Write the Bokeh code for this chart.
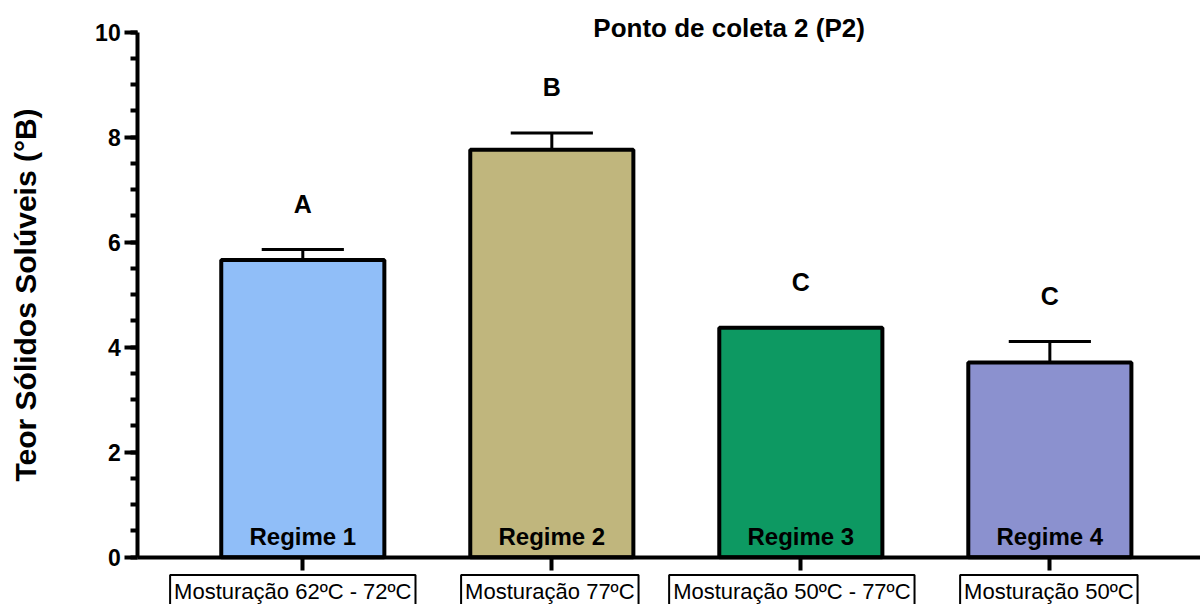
from bokeh.plotting import figure
from bokeh.models import ColumnDataSource, Range1d, FixedTicker, Label
from bokeh.embed import file_html
from bokeh.resources import INLINE

# ---- data ----
categories = ["Regime 1", "Regime 2", "Regime 3", "Regime 4"]
conditions = ["Mosturação 62ºC - 72ºC", "Mosturação 77ºC",
              "Mosturação 50ºC - 77ºC", "Mosturação 50ºC"]
means = [5.66, 7.76, 4.37, 3.71]
errors = [0.20, 0.32, 0.0, 0.40]
letters = ["A", "B", "C", "C"]
colors = ["#90BEF8", "#C0B67D", "#0D9962", "#8B91CF"]
y_ticks = [0, 2, 4, 6, 8, 10]
title_text = "Ponto de coleta 2 (P2)"
y_label = "Teor Sólidos Solúveis (°B)"

FONT = "Liberation Sans"
box_shift_px = [-10, -2, -9, -1]  # small horizontal nudges of the boxed labels
xs = list(range(len(categories)))
tops = [m + e for m, e in zip(means, errors)]

src = ColumnDataSource(dict(x=xs, top=means, err_top=tops, color=colors,
                            cap_l=[x - 0.165 for x in xs],
                            cap_r=[x + 0.165 for x in xs]))

p = figure(width=1200, height=604, output_backend="svg", toolbar_location=None,
           title=None,
           x_range=Range1d(-1.214, 3.605), y_range=Range1d(-0.901, 10.604),
           min_border=0, x_axis_location="below", y_axis_location="left")
p.outline_line_color = None
p.xgrid.visible = False
p.ygrid.visible = False
p.background_fill_color = "white"
p.border_fill_color = "white"

p.vbar(x="x", top="top", bottom=0, width=0.655, source=src, fill_color="color",
       line_color="black", line_width=4)
p.segment(x0="x", y0="top", x1="x", y1="err_top", source=src,
          line_color="black", line_width=3)
p.segment(x0="cap_l", y0="err_top", x1="cap_r", y1="err_top", source=src,
          line_color="black", line_width=3)

# y axis
ya = p.yaxis[0]
ya.fixed_location = -0.663
ya.bounds = (0, 10)
ya.ticker = FixedTicker(ticks=y_ticks, minor_ticks=[i * 0.5 for i in range(21)])
ya.axis_line_width = 4
ya.major_tick_line_width = 4
ya.minor_tick_line_width = 4
ya.major_tick_out = 13
ya.major_tick_in = 0
ya.minor_tick_out = 7
ya.minor_tick_in = 0
ya.major_label_text_font = FONT
ya.major_label_text_font_style = "bold"
ya.major_label_text_font_size = "23px"
ya.major_label_text_color = "black"
ya.major_label_standoff = 4
ya.axis_label = y_label
ya.axis_label_text_font = FONT
ya.axis_label_text_font_style = "bold"
ya.axis_label_text_font_size = "30px"
ya.axis_label_text_color = "black"
ya.axis_label_standoff = 50

# x axis
xa = p.xaxis[0]
xa.fixed_location = 0
xa.bounds = (-0.663, 3.605)
xa.ticker = FixedTicker(ticks=xs, minor_ticks=[])
xa.axis_line_width = 4
xa.major_tick_line_width = 4
xa.major_tick_out = 13
xa.major_tick_in = 0
xa.minor_tick_out = 0
xa.major_label_text_font_size = "0px"
xa.major_label_text_color = None

# regime labels inside bars
for x, cat in zip(xs, categories):
    p.add_layout(Label(x=x, y=0.40, text=cat, text_align="center",
                       text_baseline="alphabetic", text_font=FONT,
                       text_font_style="bold", text_font_size="24px",
                       text_color="black"))

# significance letters
for x, t, l in zip(xs, tops, letters):
    p.add_layout(Label(x=x, y=t + 0.87, text=l, text_align="center",
                       text_baseline="middle", text_font=FONT,
                       text_font_style="bold", text_font_size="25px",
                       text_color="black"))

# boxed condition labels under the axis
for x, c, dx in zip(xs, conditions, box_shift_px):
    p.add_layout(Label(x=x, y=-0.654, x_offset=dx, text=c, text_align="center",
                       text_baseline="alphabetic", text_font=FONT,
                       text_font_size="22px", text_color="black",
                       border_line_color="black", border_line_width=2,
                       background_fill_color="white", padding=4))

# title
p.add_layout(Label(x=1.712, y=10.08, text=title_text, text_align="center",
                   text_baseline="alphabetic", text_font=FONT,
                   text_font_style="bold", text_font_size="26px",
                   text_color="black"))

open("out.html", "w").write(file_html(p, INLINE))
